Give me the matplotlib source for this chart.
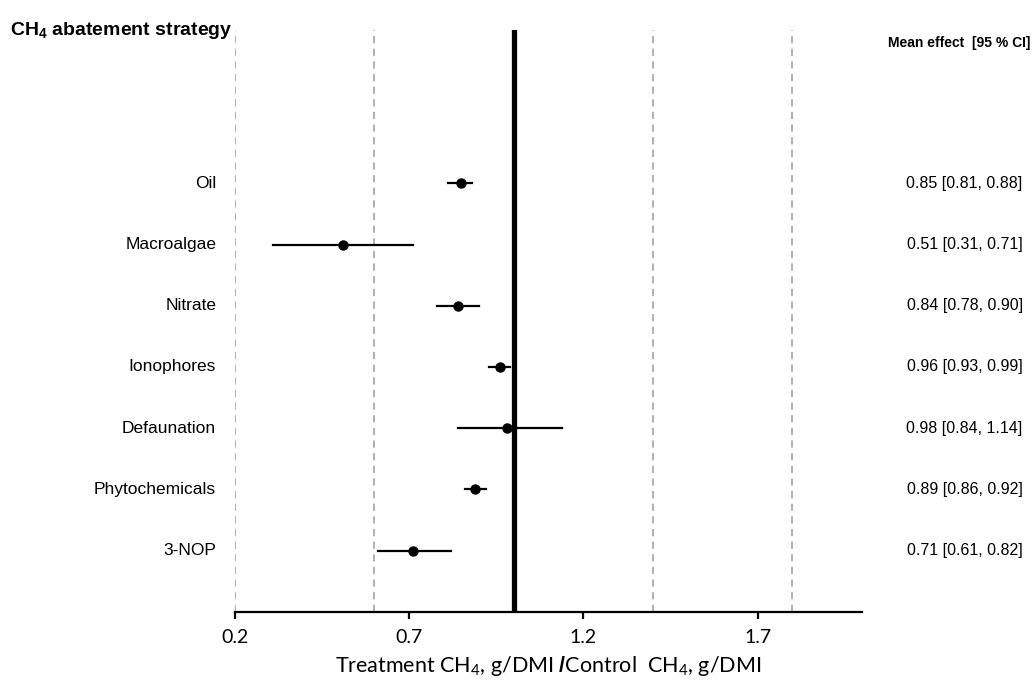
import matplotlib
matplotlib.use('Agg')
import matplotlib.pyplot as plt

plt.rcParams['font.family'] = ['Liberation Sans', 'DejaVu Sans']
plt.rcParams['mathtext.fontset'] = 'custom'
plt.rcParams['mathtext.rm'] = 'Lato'
plt.rcParams['mathtext.bf'] = 'Liberation Sans:bold'
plt.rcParams['mathtext.default'] = 'rm'

# data (top to bottom)
strategies = ['Oil', 'Macroalgae', 'Nitrate', 'Ionophores', 'Defaunation', 'Phytochemicals', '3-NOP']
mean_eff = [0.85, 0.51, 0.84, 0.96, 0.98, 0.89, 0.71]
ci_low = [0.81, 0.31, 0.78, 0.93, 0.84, 0.86, 0.61]
ci_high = [0.88, 0.71, 0.90, 0.99, 1.14, 0.92, 0.82]
guide_lines = [0.2, 0.6, 1.4, 1.8]
xticks = [0.2, 0.7, 1.2, 1.7]

fig = plt.figure(figsize=(10.33, 6.86), dpi=100)
ax = fig.add_axes([0.2275, 0.108, 0.607, 0.848])

n = len(strategies)
ypos = list(range(n, 0, -1))

for g in guide_lines:
    ax.axvline(g, color='#aaaaaa', lw=1.3, ls=(0, (4, 3)), zorder=1)
ax.axvline(1.0, color='black', lw=3.8, zorder=2)

for y, m, lo, hi in zip(ypos, mean_eff, ci_low, ci_high):
    ax.plot([lo, hi], [y, y], color='black', lw=1.6, zorder=3)
    ax.plot(m, y, 'o', color='black', ms=6.5, zorder=4)

ax.set_xlim(0.2, 2.0)
ax.set_ylim(0, n + 2.5)
ax.set_xticks(xticks)
ax.set_xticklabels([str(t) for t in xticks], fontsize=14, family='Lato')
ax.set_yticks([])
for s in ['top', 'right', 'left']:
    ax.spines[s].set_visible(False)
ax.spines['bottom'].set_linewidth(1.6)
ax.tick_params(axis='x', direction='out', length=5, width=1.6, pad=7)

ax.set_xlabel(r'Treatment CH$_4$, g/DMI $\mathbf{/}$Control  CH$_4$, g/DMI',
              fontsize=15.5, family='Lato', labelpad=6)

# strategy names on the left, effect values on the right
for y, name, m, lo, hi in zip(ypos, strategies, mean_eff, ci_low, ci_high):
    ax.text(-0.03, y, name, transform=ax.get_yaxis_transform(),
            ha='right', va='center', fontsize=12.5)
    ax.annotate(f'{m:.2f} [{lo:.2f}, {hi:.2f}]', xy=(0.99, y),
                xycoords=('figure fraction', 'data'),
                ha='right', va='center', fontsize=11.5)

fig.text(0.01, 0.955, r'CH$_\mathbf{4}$ abatement strategy', fontsize=14,
         fontweight='bold', ha='left', va='center')
fig.text(0.997, 0.938, 'Mean effect  [95 % CI]', fontsize=10,
         fontweight='bold', ha='right', va='center')

fig.savefig('out.png', dpi=100)
